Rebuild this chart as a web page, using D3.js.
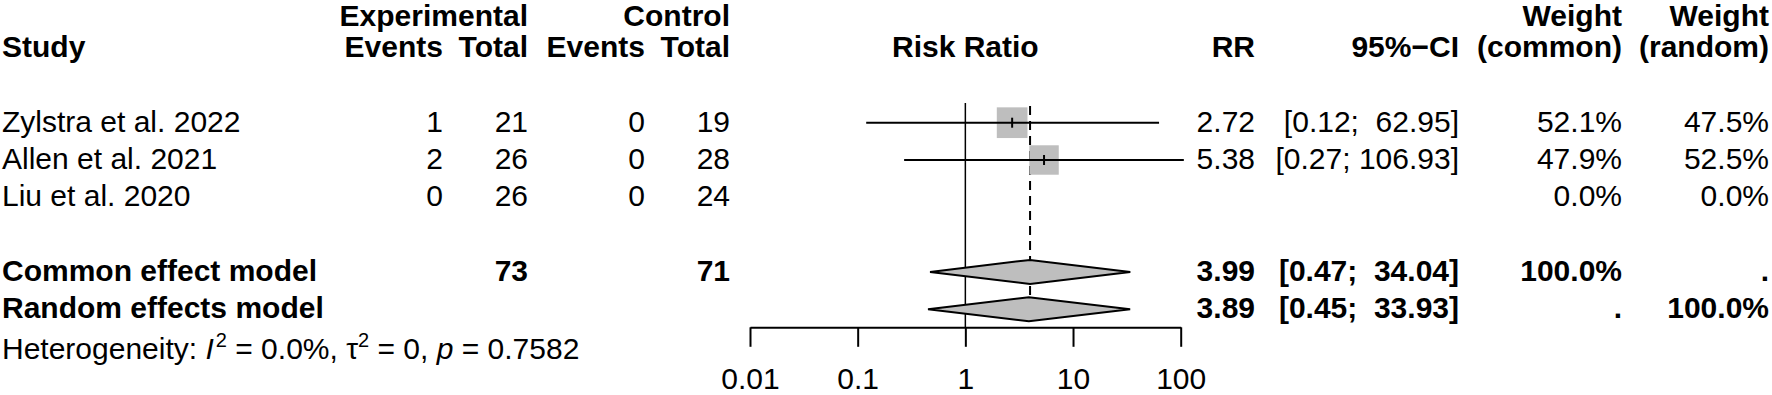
<!DOCTYPE html>
<html>
<head>
<meta charset="utf-8">
<script src="https://cdn.jsdelivr.net/npm/d3@7"></script>
<style>
  html, body { margin: 0; padding: 0; background: #fff; }
  svg { display: block; }
  text { font-family: "Liberation Sans", Arial, Helvetica, sans-serif; fill: #000; white-space: pre; }
</style>
</head>
<body>
<svg id="chart" width="1772" height="395"></svg>
<script>
// ---------------- data ----------------
const studies        = ["Zylstra et al. 2022", "Allen et al. 2021", "Liu et al. 2020"];
const expEvents      = [1, 2, 0];
const expTotal       = [21, 26, 26];
const ctrlEvents     = [0, 0, 0];
const ctrlTotal      = [19, 28, 24];
const studyRR        = [2.72, 5.38, null];
const studyLower     = [0.12, 0.27, null];
const studyUpper     = [62.95, 106.93, null];
const weightCommon   = [52.1, 47.9, 0.0];
const weightRandom   = [47.5, 52.5, 0.0];

const modelNames     = ["Common effect model", "Random effects model"];
const modelRR        = [3.99, 3.89];
const modelLower     = [0.47, 0.45];
const modelUpper     = [34.04, 33.93];
const modelExpTotal  = [73, null];
const modelCtrlTotal = [71, null];
const modelWCommon   = ["100.0%", "."];
const modelWRandom   = [".", "100.0%"];

const tickValues     = [0.01, 0.1, 1, 10, 100];
const tickLabels     = ["0.01", "0.1", "1", "10", "100"];

// ---------------- layout ----------------
const svg = d3.select("#chart");
const FS = 30;
const x = d3.scaleLog().domain([0.01, 100]).range([750, 1180.7]);
const y = d3.scaleLinear().domain([0, 1]).range([48.1, 85.4]); // row index -> y centre
const base = 9; // baseline offset from row centre
const axisY = 327.3;

const col = { study: 2, expEv: 443, expTot: 528, ctrlEv: 645, ctrlTot: 730,
              rr: 1255, ci: 1459, wc: 1622, wr: 1769 };

function txt(xp, yp, s, anchor, bold) {
  return svg.append("text")
    .attr("x", xp).attr("y", yp)
    .attr("text-anchor", anchor || "end")
    .attr("font-size", FS)
    .attr("font-weight", bold ? "bold" : "normal")
    .text(s);
}

// headers
const h1 = y(0) - 31.6 + base, h2 = y(0) + base;
txt(col.expTot, h1, "Experimental", "end", true);
txt(col.ctrlTot, h1, "Control", "end", true);
txt(col.wc, h1, "Weight", "end", true);
txt(col.wr, h1, "Weight", "end", true);
txt(col.study, h2, "Study", "start", true);
txt(col.expEv, h2, "Events", "end", true);
txt(col.expTot, h2, "Total", "end", true);
txt(col.ctrlEv, h2, "Events", "end", true);
txt(col.ctrlTot, h2, "Total", "end", true);
txt(x(1), h2, "Risk Ratio", "middle", true);
txt(col.rr, h2, "RR", "end", true);
txt(col.ci, h2, "95%\u2212CI", "end", true);
txt(col.wc, h2, "(common)", "end", true);
txt(col.wr, h2, "(random)", "end", true);

const fmt2 = d3.format(".2f");
function ciText(lo, hi) {
  const hs = fmt2(hi);
  const pad = " ".repeat(Math.max(1, 7 - hs.length));
  return "[" + fmt2(lo) + ";" + pad + hs + "]";
}

// reference line at 1 and common-effect dashed line
const plotTop = 103;
svg.append("line").attr("x1", x(1)).attr("x2", x(1)).attr("y1", plotTop).attr("y2", axisY)
  .attr("stroke", "#000").attr("stroke-width", 1.5);
svg.append("line").attr("x1", x(modelRR[0])).attr("x2", x(modelRR[0]))
  .attr("y1", plotTop + 3).attr("y2", y(7) + 12)
  .attr("stroke", "#000").attr("stroke-width", 2).attr("stroke-dasharray", "9,6");

// study rows
const maxW = d3.max(weightCommon);
studies.forEach((s, i) => {
  const yc = y(2 + i), yb = yc + base;
  txt(col.study, yb, s, "start", false);
  txt(col.expEv, yb, String(expEvents[i]));
  txt(col.expTot, yb, String(expTotal[i]));
  txt(col.ctrlEv, yb, String(ctrlEvents[i]));
  txt(col.ctrlTot, yb, String(ctrlTotal[i]));
  txt(col.wc, yb, weightCommon[i].toFixed(1) + "%");
  txt(col.wr, yb, weightRandom[i].toFixed(1) + "%");
  if (studyRR[i] != null) {
    txt(col.rr, yb, fmt2(studyRR[i]));
    txt(col.ci, yb, ciText(studyLower[i], studyUpper[i]));
    const side = 30.7 * Math.sqrt(weightCommon[i] / maxW);
    const cx = x(studyRR[i]);
    svg.append("rect").attr("x", cx - side / 2).attr("y", yc - side / 2)
      .attr("width", side).attr("height", side).attr("fill", "#bebebe");
    svg.append("line").attr("x1", x(studyLower[i])).attr("x2", x(studyUpper[i]))
      .attr("y1", yc).attr("y2", yc).attr("stroke", "#000").attr("stroke-width", 2);
    svg.append("line").attr("x1", cx).attr("x2", cx).attr("y1", yc - 5).attr("y2", yc + 5)
      .attr("stroke", "#000").attr("stroke-width", 2);
  }
});

// model rows
modelNames.forEach((m, j) => {
  const yc = y(6 + j), yb = yc + base;
  txt(col.study, yb, m, "start", true);
  if (modelExpTotal[j] != null) txt(col.expTot, yb, String(modelExpTotal[j]), "end", true);
  if (modelCtrlTotal[j] != null) txt(col.ctrlTot, yb, String(modelCtrlTotal[j]), "end", true);
  txt(col.rr, yb, fmt2(modelRR[j]), "end", true);
  txt(col.ci, yb, ciText(modelLower[j], modelUpper[j]), "end", true);
  txt(col.wc, yb, modelWCommon[j], "end", true);
  txt(col.wr, yb, modelWRandom[j], "end", true);
  const hh = 12;
  const pts = [[x(modelLower[j]), yc], [x(modelRR[j]), yc - hh], [x(modelUpper[j]), yc], [x(modelRR[j]), yc + hh]];
  svg.append("polygon").attr("points", pts.map(p => p.join(",")).join(" "))
    .attr("fill", "#bebebe").attr("stroke", "#000").attr("stroke-width", 2).attr("stroke-linejoin", "miter");
});

// heterogeneity
const het = svg.append("text").attr("x", col.study).attr("y", y(8) + 3 + base)
  .attr("font-size", FS).attr("text-anchor", "start");
het.append("tspan").text("Heterogeneity: ");
het.append("tspan").attr("font-style", "italic").text("I");
het.append("tspan").attr("font-size", 20).attr("dx", 2).attr("dy", -12).text("2");
het.append("tspan").attr("dy", 12).text(" = 0.0%, \u03c4");
het.append("tspan").attr("font-size", 20).attr("dy", -12).text("2");
het.append("tspan").attr("dy", 12).text(" = 0, ");
het.append("tspan").attr("font-style", "italic").text("p");
het.append("tspan").text(" = 0.7582");

// axis
const axis = d3.axisBottom(x).tickValues(tickValues)
  .tickFormat((d, i) => tickLabels[i]).tickSize(19.5).tickSizeOuter(0).tickPadding(20.5);
const gA = svg.append("g").attr("transform", `translate(0,${axisY})`).call(axis);
gA.select(".domain").attr("stroke", "#000").attr("stroke-width", 2);
gA.selectAll(".tick line").attr("stroke", "#000").attr("stroke-width", 2);
gA.selectAll(".tick text").attr("font-size", FS)
  .attr("font-family", '"Liberation Sans", Arial, sans-serif').attr("fill", "#000");
</script>
</body>
</html>
